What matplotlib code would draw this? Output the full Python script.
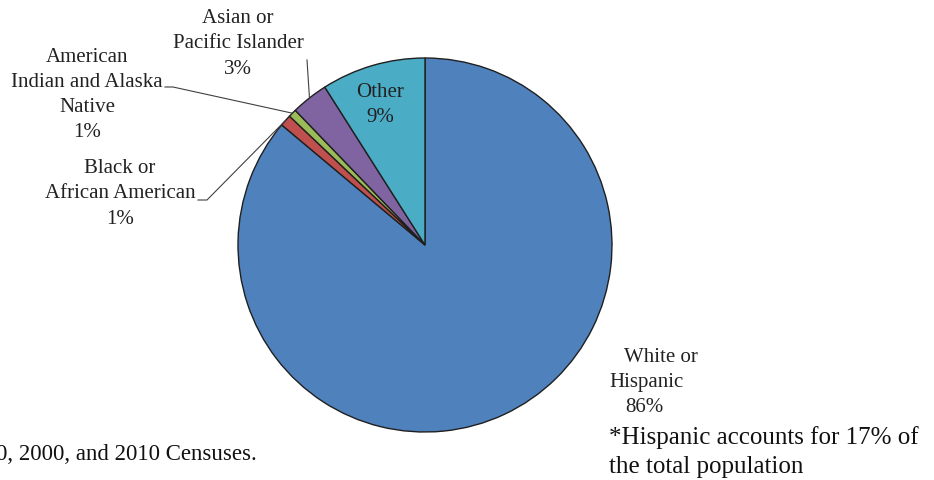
import matplotlib.pyplot as plt
import numpy as np

categories = ["White or Hispanic", "Black or African American",
              "American Indian and Alaska Native", "Asian or Pacific Islander", "Other"]
shares = [86.1, 1.0, 0.7, 3.2, 9.0]
colors = ["#4F81BD", "#C0504D", "#9BBB59", "#8064A2", "#4BACC6"]

W, H = 934, 480
plt.rcParams["font.family"] = ["Liberation Serif", "DejaVu Serif"]

fig = plt.figure(figsize=(W / 100, H / 100), dpi=100)
ax = fig.add_axes([0, 0, 1, 1])

cx, cy, r = 425, H - 245, 187
wedges, _ = ax.pie(shares, colors=colors, startangle=90, counterclock=False,
                   center=(cx, cy), radius=r, frame=True,
                   wedgeprops=dict(edgecolor="#1f1f1f", linewidth=1))
ax.set_xlim(0, W)
ax.set_ylim(0, H)
ax.set_aspect("equal")
ax.axis("off")


def edge_point(w, frac=1.0):
    a = np.deg2rad((w.theta1 + w.theta2) / 2)
    return cx + frac * r * np.cos(a), cy + frac * r * np.sin(a)


def y(p):
    return H - p


fs = 15
ls = 1.45
tc = "#222222"

# Other, inside
ax.text(380, y(105), "Other\n9%", ha="center", va="center", fontsize=fs, color=tc, linespacing=ls)

# Asian
ax.text(238, y(44), "Asian or\nPacific Islander\n3%", ha="center", va="center",
        fontsize=fs, color=tc, linespacing=ls)
ex, ey = edge_point(wedges[3])
ax.plot([307, ex], [y(60), ey], color="#404040", lw=0.8)

# American Indian
ax.text(87, y(95), "American\nIndian and Alaska\nNative\n1%", ha="center", va="center",
        fontsize=fs, color=tc, linespacing=ls)
ex, ey = edge_point(wedges[2])
ax.plot([165, 173, ex], [y(87), y(87), ey], color="#404040", lw=0.8)

# Black
ax.text(120, y(194), "Black or\nAfrican American\n1%", ha="center", va="center",
        fontsize=fs, color=tc, linespacing=ls)
ex, ey = edge_point(wedges[1])
ax.plot([198, 207, ex], [y(200), y(200), ey], color="#404040", lw=0.8)

# White
ax.text(624, y(358), "White or", ha="left", va="center", fontsize=fs, color=tc)
ax.text(609, y(383), "Hispanic", ha="left", va="center", fontsize=fs, color=tc)
ax.text(625, y(407), "86%", ha="left", va="center", fontsize=fs, color=tc)

ax.text(609, y(452), "*Hispanic accounts for 17% of\nthe total population", ha="left", va="center",
        fontsize=18, color="#111111", linespacing=1.4)

ax.text(-4, y(455), "0, 2000, and 2010 Censuses.", ha="left", va="center", fontsize=16.5, color="#111111")

fig.savefig("out.png", dpi=100)
